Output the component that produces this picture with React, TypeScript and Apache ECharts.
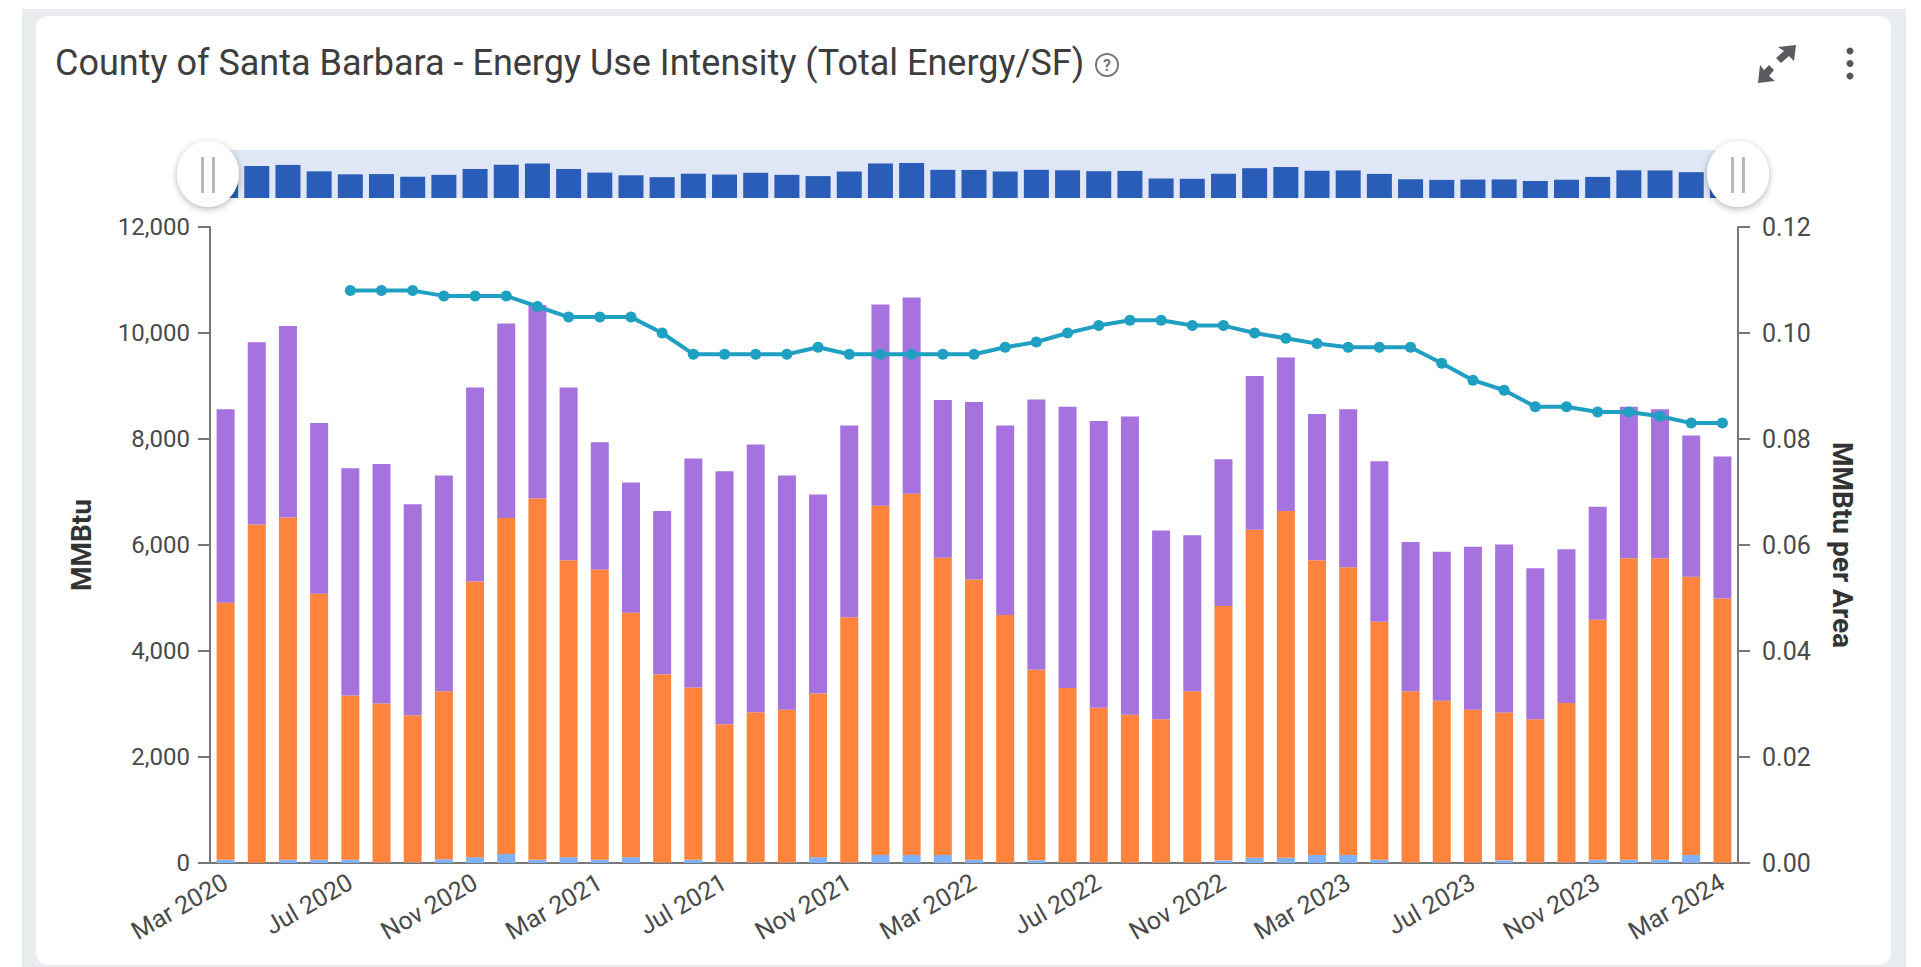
import React, { useEffect, useRef } from "react";
import * as echarts from "echarts";

const titleText = "County of Santa Barbara - Energy Use Intensity (Total Energy/SF)";
const monthNames = ["Mar","Apr","May","Jun","Jul","Aug","Sep","Oct","Nov","Dec","Jan","Feb"];
const categories: string[] = [];
for (let i = 0; i < 49; i++) {
  const year = 2020 + Math.floor((i + 2) / 12);
  categories.push(monthNames[i % 12] + " " + year);
}
const blueValues = [60,5,60,60,60,10,10,70,110,170,60,110,60,110,10,60,10,10,10,110,10,150,150,150,60,10,50,10,10,10,10,10,50,100,100,150,150,60,10,10,10,50,10,10,60,60,60,150,10];
const orangeValues = [4850,6380,6460,5020,3100,3000,2780,3170,5200,6340,6820,5600,5480,4610,3550,3250,2610,2835,2880,3090,4625,6590,6815,5610,5290,4670,3595,3290,2920,2785,2700,3230,4800,6190,6540,5560,5430,4490,3230,3050,2880,2790,2700,3010,4530,5690,5690,5250,4980];
const purpleValues = [3650,3440,3610,3220,4290,4520,3980,4070,3660,3670,3650,3260,2400,2460,3080,4320,4770,5050,4420,3755,3620,3800,3705,2975,3350,3575,5100,5310,5410,5630,3565,2945,2770,2900,2900,2760,2980,3030,2815,2815,3075,3170,2850,2900,2130,2860,2810,2665,2680];
const euiValues = [null,null,null,null,0.108,0.108,0.108,0.107,0.107,0.107,0.105,0.103,0.103,0.103,0.1,0.096,0.096,0.096,0.096,0.0973,0.096,0.096,0.096,0.096,0.096,0.0973,0.0983,0.1,0.1014,0.1024,0.1024,0.1014,0.1014,0.1,0.099,0.098,0.0973,0.0973,0.0973,0.0943,0.0911,0.0892,0.0861,0.0861,0.0851,0.0851,0.0843,0.083,0.083];
const totals = blueValues.map((v, i) => v + orangeValues[i] + purpleValues[i]);

const FONT = "Roboto";
const TEXT = "#4a4a4a";
const AXIS = "#777777";

function handle(cx: number) {
  return [
    { type: "ellipse", z: 100, shape: { cx, cy: 174, rx: 31, ry: 33 }, style: { fill: "#ffffff", shadowBlur: 7, shadowColor: "rgba(0,0,0,0.3)", shadowOffsetY: 2 } },
    { type: "line", z: 101, shape: { x1: cx - 5.5, y1: 157, x2: cx - 5.5, y2: 193 }, style: { stroke: "#b9b9b9", lineWidth: 3 } },
    { type: "line", z: 101, shape: { x1: cx + 5.5, y1: 157, x2: cx + 5.5, y2: 193 }, style: { stroke: "#b9b9b9", lineWidth: 3 } },
  ];
}

export default function App() {
  const ref = useRef<HTMLDivElement>(null);
  useEffect(() => {
    document.body.style.margin = "0";
    document.body.style.overflow = "hidden";
    const chart = echarts.init(ref.current!, undefined, { renderer: "svg" });
    chart.setOption({
      animation: false,
      backgroundColor: "#ffffff",
      textStyle: { fontFamily: FONT },
      title: {
        text: titleText,
        left: 55,
        top: 45,
        padding: 0,
        textStyle: { fontFamily: FONT, fontSize: 36, fontWeight: 400, color: "#3d3d3d" },
      },
      grid: [
        { left: 210, right: 183, top: 227, bottom: 104 },
        { left: 210, right: 183, top: 150, height: 48, show: true, backgroundColor: "#dfe6f5", borderWidth: 0 },
      ],
      xAxis: [
        {
          type: "category",
          data: categories,
          gridIndex: 0,
          axisLine: { lineStyle: { color: AXIS, width: 2 } },
          axisTick: { alignWithLabel: true, interval: 3, length: 12, lineStyle: { color: AXIS, width: 2 } },
          axisLabel: { interval: 3, rotate: 30, margin: 17, fontSize: 25, color: TEXT, fontFamily: FONT },
        },
        { type: "category", data: categories, gridIndex: 1, show: false },
      ],
      yAxis: [
        {
          type: "value",
          gridIndex: 0,
          min: 0,
          max: 12000,
          interval: 2000,
          name: "MMBtu",
          nameLocation: "middle",
          nameGap: 115,
          nameTextStyle: { fontFamily: FONT, fontSize: 28, fontWeight: 700, color: "#333333" },
          axisLine: { show: true, lineStyle: { color: AXIS, width: 2 } },
          axisTick: { show: true, length: 12, lineStyle: { color: AXIS, width: 2 } },
          axisLabel: { margin: 20, fontSize: 24, color: TEXT, fontFamily: FONT, formatter: (v: number) => v.toLocaleString("en-US") },
          splitLine: { show: false },
        },
        {
          type: "value",
          gridIndex: 0,
          position: "right",
          min: 0,
          max: 0.12,
          interval: 0.02,
          name: "MMBtu per Area",
          nameLocation: "middle",
          nameGap: 90,
          nameRotate: -90,
          nameTextStyle: { fontFamily: FONT, fontSize: 28, fontWeight: 700, color: "#333333" },
          axisLine: { show: true, lineStyle: { color: AXIS, width: 2 } },
          axisTick: { show: true, length: 12, lineStyle: { color: AXIS, width: 2 } },
          axisLabel: { margin: 24, fontSize: 25, color: TEXT, fontFamily: FONT, formatter: (v: number) => v.toFixed(2) },
          splitLine: { show: false },
        },
        { type: "value", gridIndex: 1, min: 730, max: 14366, show: false, splitLine: { show: false } },
      ],
      series: [
        { name: "Blue", type: "bar", stack: "energy", xAxisIndex: 0, yAxisIndex: 0, barWidth: 18, data: blueValues, itemStyle: { color: "#7fb2f5" } },
        { name: "Orange", type: "bar", stack: "energy", xAxisIndex: 0, yAxisIndex: 0, barWidth: 18, data: orangeValues, itemStyle: { color: "#fe843d" } },
        { name: "Purple", type: "bar", stack: "energy", xAxisIndex: 0, yAxisIndex: 0, barWidth: 18, data: purpleValues, itemStyle: { color: "#a673de" } },
        {
          name: "EUI", type: "line", xAxisIndex: 0, yAxisIndex: 1, data: euiValues, z: 5,
          symbol: "circle", symbolSize: 11, showSymbol: true,
          lineStyle: { color: "#1f9fc2", width: 4 }, itemStyle: { color: "#1f9fc2" },
        },
        { name: "Overview", type: "bar", xAxisIndex: 1, yAxisIndex: 2, barWidth: 25, data: totals, itemStyle: { color: "#2a5db8" } },
      ],
      graphic: [
        { type: "rect", z: -2, shape: { x: 22, y: 9, width: 1884, height: 958 }, style: { fill: "#e9ecef" } },
        { type: "rect", z: -1, shape: { x: 36, y: 16, width: 1855, height: 949, r: 12 }, style: { fill: "#ffffff" } },
        { type: "circle", z: 10, shape: { cx: 1107, cy: 65, r: 11 }, style: { fill: "none", stroke: "#777777", lineWidth: 2 } },
        { type: "text", z: 10, x: 1107, y: 65, style: { text: "?", fontFamily: FONT, fontSize: 16, fontWeight: 700, fill: "#777777", textAlign: "center", textVerticalAlign: "middle" } },
        { type: "polygon", z: 10, shape: { points: [[1778, 47], [1796, 45], [1794, 61], [1789, 56], [1781, 63], [1776, 58], [1784, 51]] }, style: { fill: "#5a5a60" } },
        { type: "polygon", z: 10, shape: { points: [[1760, 65], [1758, 83], [1775, 81], [1769, 76], [1774, 70], [1769, 65], [1764, 70]] }, style: { fill: "#5a5a60" } },
        { type: "circle", z: 10, shape: { cx: 1850, cy: 51, r: 3.5 }, style: { fill: "#555555" } },
        { type: "circle", z: 10, shape: { cx: 1850, cy: 63.5, r: 3.5 }, style: { fill: "#555555" } },
        { type: "circle", z: 10, shape: { cx: 1850, cy: 76, r: 3.5 }, style: { fill: "#555555" } },
        ...handle(208),
        ...handle(1738),
      ],
    });
    return () => chart.dispose();
  }, []);
  return <div ref={ref} style={{ position: "absolute", left: 0, top: 0, width: 1921, height: 967 }} />;
}
